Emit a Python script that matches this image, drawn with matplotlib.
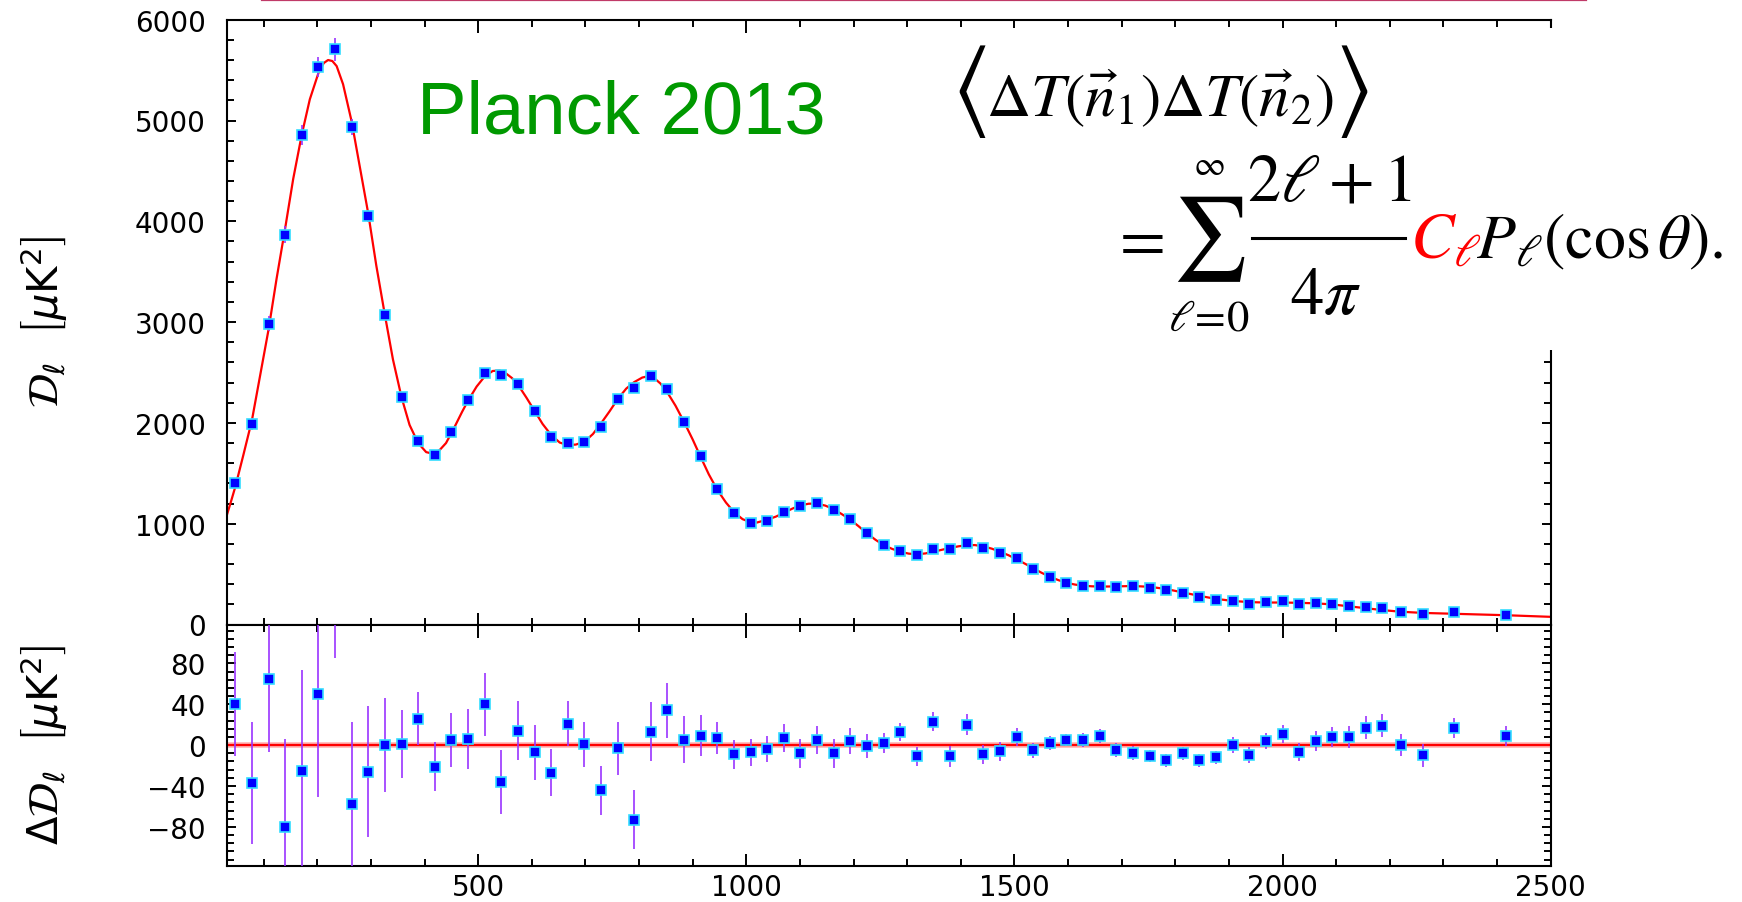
import matplotlib
matplotlib.use("Agg")
import matplotlib.pyplot as plt
from matplotlib.ticker import MultipleLocator, AutoMinorLocator
from matplotlib.patches import Rectangle
from matplotlib.lines import Line2D
from matplotlib.transforms import IdentityTransform

# Binned multipoles
ell = [47, 78, 109, 140, 171, 202, 233, 264, 295, 326, 357, 388, 419, 450, 481,
       512, 543, 574, 605, 636, 667, 698, 729, 760, 791, 822, 853, 884, 915, 946,
       977, 1008, 1039, 1070, 1101, 1132, 1163, 1194, 1225, 1256, 1287, 1318, 1349,
       1380, 1411, 1442, 1473, 1504, 1535, 1566, 1597, 1628, 1659, 1690, 1721, 1752,
       1783, 1814, 1845, 1876, 1907, 1938, 1969, 2000, 2031, 2062, 2093, 2124, 2155,
       2186, 2220, 2261, 2320, 2417]

# D_ell in muK^2
dl = [1400, 1990, 2985, 3866, 4857, 5529, 5705, 4934, 4053, 3073, 2255, 1820, 1685,
      1910, 2225, 2500, 2480, 2390, 2115, 1857, 1800, 1815, 1957, 2235, 2342, 2467,
      2332, 2013, 1668, 1342, 1108, 1010, 1030, 1113, 1175, 1202, 1136, 1045, 903,
      790, 733, 686, 745, 745, 810, 762, 714, 655, 555, 476, 416, 383, 380, 373, 380,
      365, 340, 310, 271, 244, 234, 208, 221, 231, 208, 215, 208, 185, 172, 160, 122,
      102, 126, 99]

# 1-sigma errors
dl_err = [51, 60, 72, 86, 98, 101, 110, 81, 64, 46, 33, 26, 24, 26, 29, 31, 31, 29,
          27, 23, 22, 22, 24, 26, 29, 29, 27, 23, 20, 16, 14, 13, 13, 14, 14, 14, 14,
          13, 12, 10, 9, 9, 9, 10, 10, 9.5, 9.5, 9, 7.5, 7, 5.5, 6.5, 6.5, 7, 7, 6, 6,
          6.5, 6.5, 6.7, 7.7, 7.7, 8, 8.6, 9, 9.5, 10, 10.6, 11, 11, 11, 11, 10, 10]

# residuals against the best fit
resid = [40, -37, 65, -80, -25, 50, 195, -58, -26, 0, 1, 26, -21, 5, 6, 40, -36, 14,
         -7, -27, 21, 1, -44, -3, -73, 13, 34, 5, 9, 7, -9, -7, -4, 7, -8, 5, -8, 4,
         -1, 2, 13, -11, 23, -11, 20, -9, -6, 8, -5, 2, 5, 5, 9, -5, -8, -11, -15, -8,
         -15, -12, 0, -10, 4, 11, -7, 4, 8, 8, 17, 19, 0, -10, 17, 9]

# best-fit curve
model_ell = [31, 39, 47, 62, 78, 93, 109, 124, 140, 155, 171, 186, 202, 212, 220, 228,
             236, 248, 264, 279, 295, 310, 326, 341, 357, 372, 388, 403, 415, 428, 440,
             455, 470, 481, 497, 512, 527, 540, 552, 563, 574, 590, 605, 620, 636, 652,
             667, 682, 698, 714, 729, 745, 760, 776, 791, 806, 816, 828, 840, 853, 868,
             884, 900, 915, 930, 946, 962, 977, 993, 1008, 1020, 1039, 1055, 1070, 1086,
             1101, 1116, 1130, 1147, 1163, 1178, 1194, 1210, 1225, 1241, 1256, 1272,
             1287, 1303, 1318, 1334, 1349, 1365, 1380, 1396, 1411, 1426, 1442, 1458,
             1473, 1489, 1504, 1520, 1535, 1551, 1566, 1582, 1597, 1613, 1628, 1644,
             1659, 1690, 1721, 1752, 1783, 1814, 1845, 1876, 1907, 1938, 1969, 2000,
             2031, 2062, 2093, 2124, 2155, 2186, 2220, 2261, 2320, 2417, 2500]
model_dl = [1080, 1220, 1365, 1680, 2025, 2460, 2925, 3430, 3930, 4420, 4860, 5210,
            5470, 5570, 5600, 5590, 5540, 5360, 4990, 4550, 4075, 3560, 3070, 2630,
            2255, 1980, 1800, 1710, 1695, 1730, 1800, 1950, 2110, 2220, 2360, 2460,
            2515, 2520, 2490, 2445, 2380, 2250, 2120, 1990, 1880, 1805, 1780, 1785,
            1812, 1890, 1995, 2115, 2235, 2340, 2405, 2450, 2462, 2445, 2390, 2300,
            2170, 2008, 1835, 1660, 1490, 1335, 1210, 1115, 1045, 1015, 1012, 1040,
            1070, 1108, 1150, 1182, 1198, 1200, 1180, 1144, 1095, 1041, 972, 904, 840,
            788, 750, 722, 703, 697, 705, 722, 742, 760, 776, 786, 788, 775, 752, 722,
            687, 647, 602, 558, 512, 474, 440, 414, 396, 385, 379, 376, 378, 382, 374,
            352, 318, 284, 254, 234, 222, 218, 218, 215, 210, 199, 180, 160, 143, 127,
            115, 106, 92, 76]

W, H = 1742, 903
fig = plt.figure(figsize=(W / 100, H / 100), dpi=100)

x0, x1 = 226.7, 1550.7
ax1 = fig.add_axes([x0 / W, 1 - 625.5 / H, (x1 - x0) / W, (625.5 - 20.7) / H])
ax2 = fig.add_axes([x0 / W, 1 - 866.7 / H, (x1 - x0) / W, (866.7 - 625.5) / H])

bar_col = "#9933ff"
for ax in (ax1, ax2):
    ax.set_xlim(31, 2500)
    ax.xaxis.set_major_locator(MultipleLocator(500))
    ax.xaxis.set_minor_locator(MultipleLocator(100))
    ax.tick_params(which="both", direction="in", top=True, right=True,
                   width=1.4, labelsize=20, colors="black")
    ax.tick_params(axis="x", which="major", length=9, pad=5)
    ax.tick_params(axis="x", which="minor", length=5)
    ax.tick_params(axis="y", which="major", length=6.5, pad=15)
    ax.tick_params(axis="y", which="minor", length=5)
    for sp in ax.spines.values():
        sp.set_linewidth(1.5)

# top panel
ax1.set_ylim(0, 6000)
ax1.yaxis.set_major_locator(MultipleLocator(1000))
ax1.yaxis.set_minor_locator(AutoMinorLocator(5))
ax1.tick_params(labelbottom=False)
ax1.plot(model_ell, model_dl, color="red", lw=1.6, zorder=2)
ax1.errorbar(ell, dl, yerr=dl_err, fmt="none", ecolor=bar_col, elinewidth=1.2, zorder=3)
ax1.plot(ell, dl, "s", ms=7.5, mfc="#0000ff", mec="#33ddff", mew=1.2, zorder=4)

# residual panel
ax2.set_ylim(-118, 118)
ax2.yaxis.set_major_locator(MultipleLocator(40))
ax2.yaxis.set_minor_locator(AutoMinorLocator(5))
ax2.axhline(0, color="#ffb0b0", lw=4, zorder=1)
ax2.axhline(0, color="red", lw=1.6, zorder=2)
ax2.errorbar(ell, resid, yerr=dl_err, fmt="none", ecolor=bar_col, elinewidth=1.2, zorder=3)
ax2.plot(ell, resid, "s", ms=7.5, mfc="#0000ff", mec="#33ddff", mew=1.2, zorder=4)

# axis labels
fig.text(44 / W, 1 - 322 / H, r"$\mathcal{D}_\ell\ \ \left[\mu\mathrm{K}^2\right]$",
         rotation=90, ha="center", va="center", fontsize=30, math_fontfamily="dejavusans")
fig.text(44 / W, 1 - 745 / H, r"$\Delta\mathcal{D}_\ell\ \ \left[\mu\mathrm{K}^2\right]$",
         rotation=90, ha="center", va="center", fontsize=30, math_fontfamily="dejavusans")

fig.text(417 / W, 1 - 133 / H, "Planck 2013", color="#009900", fontsize=53.5,
         family="Liberation Sans", va="baseline", ha="left")

# white box of the pasted formula
fig.patches.append(Rectangle((940 / W, 1 - 351 / H), 1 - 940 / W, (351 - 29) / H,
                             transform=fig.transFigure, facecolor="white",
                             edgecolor="none", zorder=5))
fig.lines.append(Line2D([262 / W, 1586 / W], [1 - 1 / H, 1 - 1 / H], transform=fig.transFigure,
                        color="#c03a68", lw=1.6, zorder=6))

renderer = fig.canvas.get_renderer()


def ftext(x, y, s, size, color="black", ha="left", va="baseline"):
    # x, y in pixels from the top-left corner
    return fig.text(x, H - y, s, transform=IdentityTransform(), color=color,
                    fontsize=size, ha=ha, va=va, math_fontfamily="stix", zorder=7)


# first line, placed piece by piece
x = 951
for s, size in [(r"$\langle$", 72), (r"$\Delta T(\vec{n}_1)\Delta T(\vec{n}_2)$", 44),
                (r"$\rangle$", 72)]:
    t = ftext(x, 117, s, size)
    x = t.get_window_extent(renderer).x1

# second line
ftext(1137, 240, r"$=$", 48, ha="center", va="center")
ftext(1209, 239, r"$\sum$", 60, ha="center", va="center")
ftext(1209, 165, r"$\infty$", 25, ha="center", va="center")
ftext(1209, 318, r"$\ell\!=\!0$", 32, ha="center", va="center")
ftext(1330, 182, r"$2\ell+1$", 48, ha="center", va="center")
ftext(1326, 295, r"$4\pi$", 48, ha="center", va="center")
fig.lines.append(Line2D([1252 / W, 1405 / W], [1 - 239 / H, 1 - 239 / H],
                        transform=fig.transFigure, color="black", lw=2.2, zorder=7))
ftext(1410, 258, r"$C_\ell$", 47, color="red")
ftext(1476, 258, r"$P_\ell(\cos\theta).$", 46)

fig.savefig("out.png", dpi=100)
